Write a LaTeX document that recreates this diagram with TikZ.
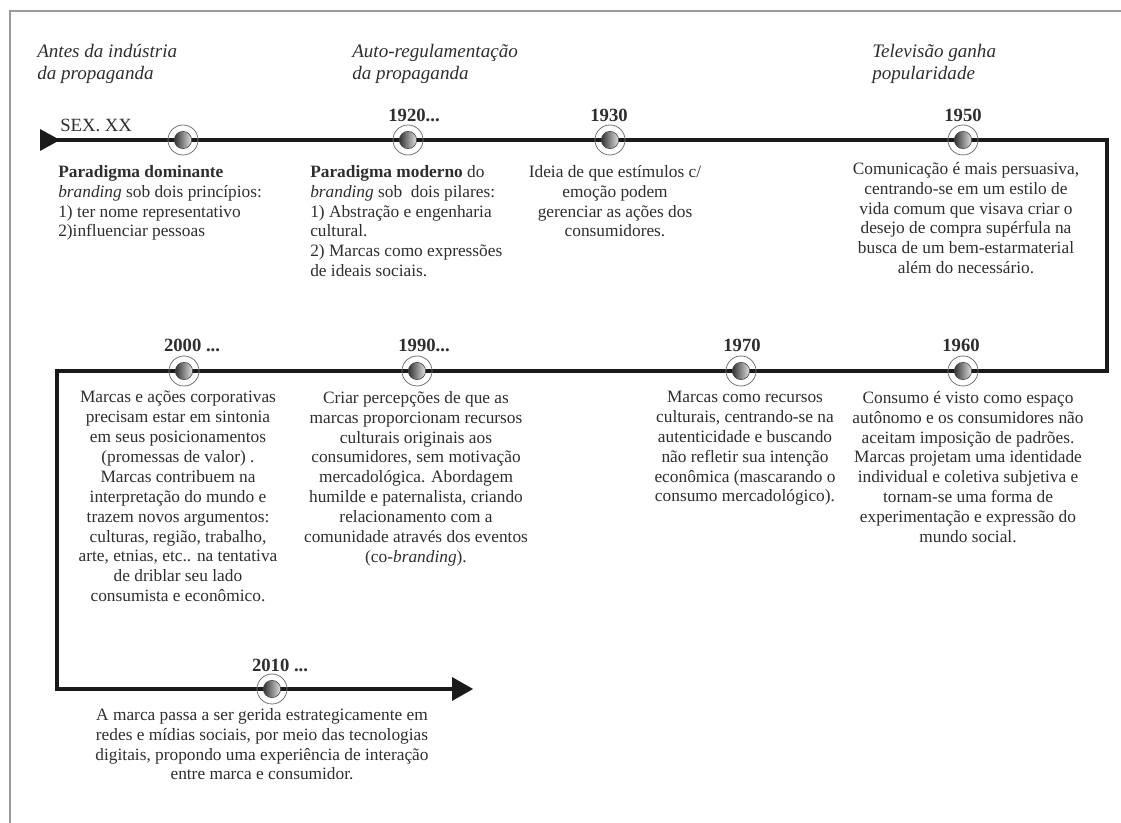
\documentclass[tikz,border=0pt]{standalone}
\usepackage{fontspec}
\setmainfont{Liberation Serif}
\definecolor{txt}{HTML}{2E2E2E}
\definecolor{tline}{HTML}{1A1A1A}
\definecolor{framec}{HTML}{9A9A9A}
\begin{document}
\begin{tikzpicture}[x=0.75pt,y=-0.75pt,
  tl/.style={draw=tline,line width=2.8pt,line join=miter},
  ring/.style={circle,draw=black!55,line width=0.6pt,minimum size=22.5pt,inner sep=0pt},
  ball/.style={circle,draw=black!75,line width=0.4pt,minimum size=13pt,inner sep=0pt,
     left color=black!80,right color=black!12},
  year/.style={font=\fontsize{14}{16}\selectfont\bfseries,text=txt,inner sep=0pt},
  body/.style={font=\fontsize{13}{14.9}\selectfont,text=txt,inner sep=0pt,align=center,anchor=north},
  bodyl/.style={body,align=left,anchor=north west},
  ttl/.style={font=\fontsize{14.3}{16.5}\selectfont\itshape,text=txt,inner sep=0pt,align=left,anchor=north west}]
\useasboundingbox (0,0) rectangle (1121,823);
% frame
\draw[framec,line width=0.8pt] (10,823) -- (10,11) -- (1121,11);
% main timeline
\coordinate (s) at (40,140);
\coordinate (c1) at (1107,140);
\coordinate (c2) at (1107,371);
\coordinate (c3) at (57,371);
\coordinate (c4) at (57,689);
\coordinate (e) at (455,689);
\draw[tl] (s) -- (c1) -- (c2) -- (c3) -- (c4) -- (e);
\fill[tline] (s) ++(0,-11) -- ++(20,11) -- ++(-20,11) -- cycle;
\fill[tline] (e) ++(-3,-12) -- ++(21,12) -- ++(-21,12) -- cycle;
% markers
\foreach \n/\x/\y in {m0/183/140, m1920/408/140, m1930/610/140, m1950/963/140,
                      m1960/963/371, m1970/741/371, m1990/417/371, m2000/184/371, m2010/272/689}{
  \node[ring] (\n) at (\x,\y) {};
  \node[ball] (b\n) at (\n.center) {};
}
% titles
\node[ttl] (ta) at (37,44) {Antes da indústria\\da propaganda};
\node[ttl] (tb) at (352,44) {Auto-regulamentação\\da propaganda};
\node[ttl] (tc) at (872,44) {Televisão ganha\\popularidade};
% year labels
\node[font=\fontsize{14}{16}\selectfont,text=txt,inner sep=0pt,anchor=west] (ysex) at (60,125) {SEX. XX};
\node[year] (y1920) at (414,115) {1920...};
\node[year] (y1930) at (609,115) {1930};
\node[year] (y1950) at (963,115) {1950};
\node[year] (y1960) at (961,345) {1960};
\node[year] (y1970) at (742,345) {1970};
\node[year] (y1990) at (424,345) {1990...};
\node[year] (y2000) at (192,345) {2000 ...};
\node[year] (y2010) at (280,665) {2010 ...};
% texts
\node[bodyl] (t0) at (58,165) {\textbf{Paradigma dominante}\\\textit{branding} sob dois princípios:\\1) ter nome representativo\\2)influenciar pessoas};
\node[bodyl] (t1920) at (310,165) {\textbf{Paradigma moderno} do\\\textit{branding} sob\ \ dois pilares:\\1) Abstração e engenharia\\cultural.\\2) Marcas como expressões\\de ideais sociais.};
\node[body] (t1930) at (615,165) {Ideia de que estímulos c/\\emoção podem\\gerenciar as ações dos\\consumidores.};
\node[body] (t1950) at (966,162) {Comunicação é mais persuasiva,\\centrando-se em um estilo de\\vida comum que visava criar o\\desejo de compra supérfula na\\busca de um bem-estarmaterial\\além do necessário.};
\node[body] (t2000) at (178,391) {Marcas e ações corporativas\\precisam estar em sintonia\\em seus posicionamentos\\(promessas de valor) .\\Marcas contribuem na\\interpretação do mundo e\\trazem novos argumentos:\\culturas, região, trabalho,\\arte, etnias, etc.. na tentativa\\de driblar seu lado\\consumista e econômico.};
\node[body] (t1990) at (416,391) {Criar percepções de que as\\marcas proporcionam recursos\\culturais originais aos\\consumidores, sem motivação\\mercadológica. Abordagem\\humilde e paternalista, criando\\relacionamento com a\\comunidade através dos eventos\\(co-\textit{branding}).};
\node[body] (t1970) at (745,391) {Marcas como recursos\\culturais, centrando-se na\\autenticidade e buscando\\não refletir sua intenção\\econômica (mascarando o\\consumo mercadológico).};
\node[body] (t1960) at (968,391) {Consumo é visto como espaço\\autônomo e os consumidores não\\aceitam imposição de padrões.\\Marcas projetam uma identidade\\individual e coletiva subjetiva e\\tornam-se uma forma de\\experimentação e expressão do\\mundo social.};
\node[body] (t2010) at (262,708) {A marca passa a ser gerida estrategicamente em\\redes e mídias sociais, por meio das tecnologias\\digitais, propondo uma experiência de interação\\entre marca e consumidor.};
\end{tikzpicture}
\end{document}
